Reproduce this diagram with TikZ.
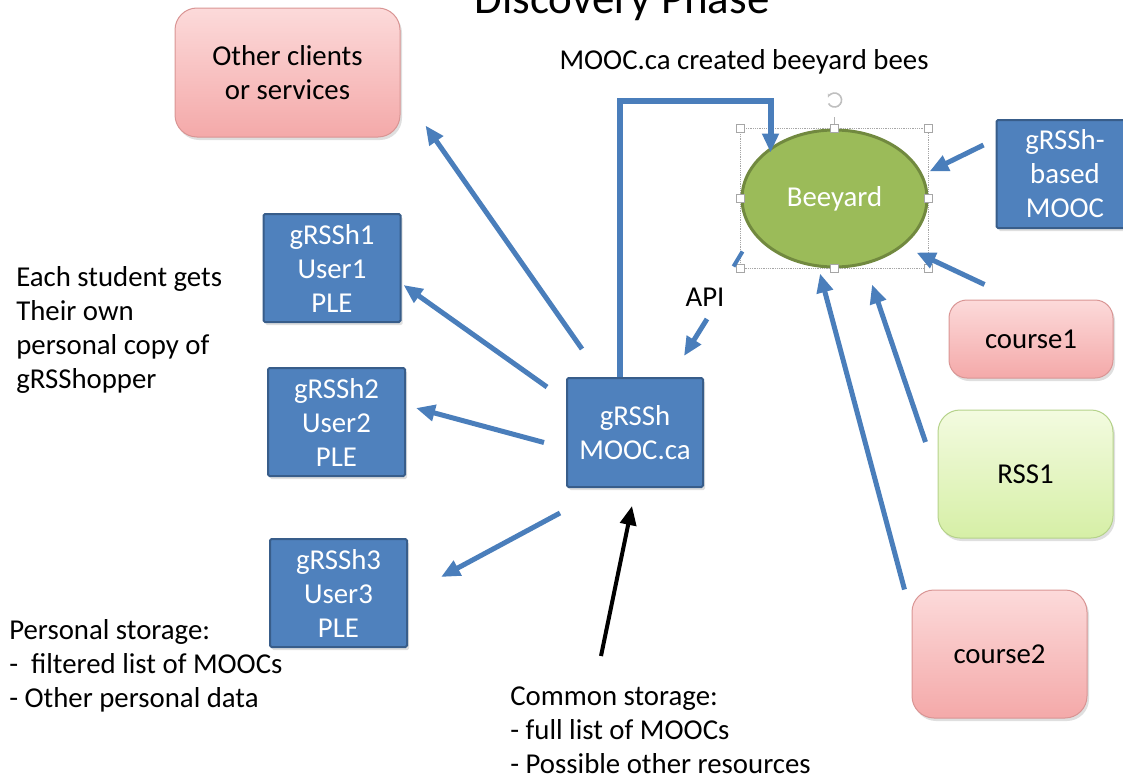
\documentclass[tikz,border=0pt]{standalone}
\usepackage{fontspec}
\setmainfont{Carlito}
\usepackage{tikz}
\usetikzlibrary{arrows.meta, shapes.geometric, shadows}

\definecolor{boxblue}{HTML}{4F81BD}
\definecolor{boxline}{HTML}{385D8A}
\definecolor{flowblue}{HTML}{4A7EBB}
\definecolor{pinktop}{HTML}{FCDADA}
\definecolor{pinkbot}{HTML}{F4A9A9}
\definecolor{pinkline}{HTML}{D99594}
\definecolor{greentop}{HTML}{F3FBE0}
\definecolor{greenbot}{HTML}{D6EFA6}
\definecolor{greenline}{HTML}{B5D28A}
\definecolor{beefill}{HTML}{9BBB59}
\definecolor{beeline}{HTML}{71893F}

\begin{document}
\begin{tikzpicture}[>={Triangle[length=19pt,width=16pt]}, x=1pt, y=-1pt, semithick]
\tikzstyle{every node}=[font=\fontsize{28.8}{34}\selectfont, inner sep=0pt]
\tikzstyle{user}=[draw=boxline, line width=2pt, fill=boxblue, text=white, align=center,
  minimum width=137pt, minimum height=108pt, rounded corners=1.5pt,
  drop shadow={opacity=0.25, shadow xshift=2pt, shadow yshift=-3pt}]
\tikzstyle{source}=[draw=pinkline, line width=1pt, top color=pinktop, bottom color=pinkbot,
  align=center, rounded corners=22pt,
  drop shadow={opacity=0.25, shadow xshift=2pt, shadow yshift=-3pt}]
\tikzstyle{feed}=[source, draw=greenline, top color=greentop, bottom color=greenbot]
\tikzstyle{flow}=[->, draw=flowblue, line width=5pt]
\tikzstyle{note}=[align=left, anchor=west]
\tikzstyle{handle}=[fill=white, draw=gray!70, line width=0.8pt]

\useasboundingbox (0,0) rectangle (1123,779);

% title runs off the top of the slide
\node[font=\fontsize{45}{54}\selectfont, anchor=base] (title) at (622,13) {Discovery Phase};

\node[source, minimum width=225pt, minimum height=129pt] (other) at (287.5,72.5) {Other clients\\or services};
\node[user] (u1) at (332,268) {gRSSh1\\User1\\PLE};
\node[user] (u2) at (336.5,422) {gRSSh2\\User2\\PLE};
\node[user] (u3) at (338.5,593) {gRSSh3\\User3\\PLE};
\node[user, minimum width=136pt, minimum height=109pt] (mooc) at (635,432.5) {gRSSh\\MOOC.ca};

\node[ellipse, minimum width=185pt, minimum height=137pt, fill=beefill, draw=beeline,
  line width=3pt, text=white] (bee) at (834.5,198.5) {Beeyard};
\node[user] (based) at (1065,174) {gRSSh-\\based\\MOOC};
\node[source, minimum width=164pt, minimum height=78pt, rounded corners=18pt] (c1) at (1031,339) {course1};
\node[feed, minimum width=175pt, minimum height=128pt] (rss) at (1025.5,474) {RSS1};
\node[source, minimum width=175pt, minimum height=128pt] (c2) at (999.5,654) {course2};

% selection frame round the ellipse
\draw[gray!70, densely dotted, line width=0.8pt] (bee.west |- bee.north) rectangle (bee.east |- bee.south);
\draw[gray!60, line width=1pt] (bee.north) -- ++(0,-12);
\draw[gray!50, line width=1.6pt, -{Stealth[length=4pt]}] (bee.north) ++(0,-21) ++(-6,-4) arc[start angle=150, end angle=-160, radius=7];
\foreach \p in {bee.west |- bee.north, bee.north, bee.east |- bee.north, bee.west, bee.east,
  bee.west |- bee.south, bee.south, bee.east |- bee.south}
  \filldraw[handle] (\p) ++(-4,-4) rectangle ++(8,8);

% texts
\node (created) at (744,62) {MOOC.ca created beeyard bees};
\node (api) at (705,297) {API};
\node[note] (each) at (16,330) {Each student gets\\Their own\\personal copy of\\gRSShopper};
\node[note] (personal) at (9,666) {Personal storage:\\-~ filtered list of MOOCs\\- Other personal data};
\node[note] (common) at (510,730) {Common storage:\\- full list of MOOCs\\- Possible other resources};

% connectors
\draw[flow] ([shift={(16,-28)}]mooc.north west) -- ([shift={(25,-12)}]other.south east);
\draw[flow] ([shift={(-19,10)}]mooc.north west) -- ([shift={(2,17)}]u1.east);
\draw[flow] ([shift={(-22,10)}]mooc.west) -- ([shift={(10,-14)}]u2.east);
\draw[flow] ([shift={(-6,25)}]mooc.south west) -- ([shift={(33,-16)}]u3.east);
\draw[flow, line width=6pt] ([shift={(-15,0)}]mooc.north) -- ++(0,-276) -| ([shift={(-64,-46)}]bee.center);
\draw[flow] ([shift={(3,-58)}]mooc.north east) -- ([shift={(-20,-21)}]mooc.north east);
\draw[flowblue, line width=4pt] ([shift={(-92,53)}]bee.center) -- ++(-9,15);
\draw[flow] ([shift={(-12,-29)}]based.west) -- ([shift={(1,-27)}]bee.east);
\draw[flow] ([shift={(36,-15)}]c1.north west) -- ([shift={(-12,54)}]bee.east);
\draw[flow] ([shift={(-12,-32)}]rss.west) -- ([shift={(37.5,16)}]bee.south);
\draw[flow] ([shift={(-7,0)}]c2.north west) -- ([shift={(-14.5,5)}]bee.south);
\draw[->, line width=4pt] ([shift={(-34,168)}]mooc.south) -- ([shift={(-3,18)}]mooc.south);
\end{tikzpicture}
\end{document}
